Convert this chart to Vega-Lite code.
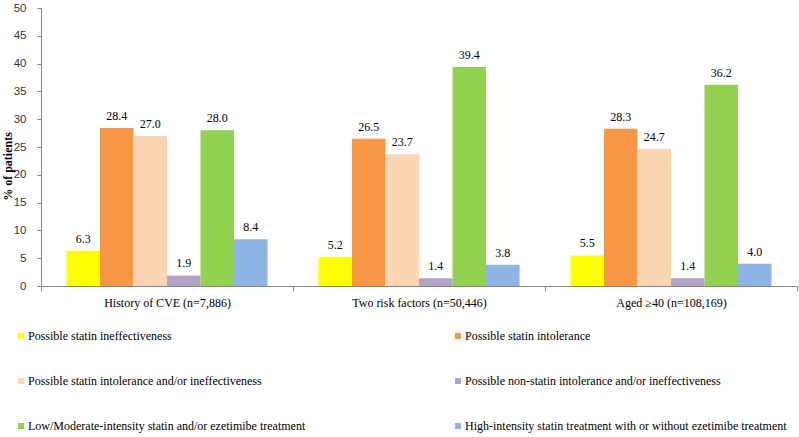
{
  "$schema": "https://vega.github.io/schema/vega-lite/v6.json",
  "width": 756,
  "height": 278,
  "autosize": "none",
  "padding": {"left": 41, "top": 8, "right": 2, "bottom": 151},
  "background": "white",
  "config": {
    "font": "Liberation Serif",
    "view": {"stroke": null}
  },
  "data": {
    "values": [
      {"group": "History of CVE  (n=7,886)", "series": "Possible statin ineffectiveness", "value": 6.3},
      {"group": "History of CVE  (n=7,886)", "series": "Possible statin intolerance", "value": 28.4},
      {"group": "History of CVE  (n=7,886)", "series": "Possible statin intolerance and/or ineffectiveness", "value": 27.0},
      {"group": "History of CVE  (n=7,886)", "series": "Possible non-statin  intolerance and/or ineffectiveness", "value": 1.9},
      {"group": "History of CVE  (n=7,886)", "series": "Low/Moderate-intensity statin and/or ezetimibe treatment", "value": 28.0},
      {"group": "History of CVE  (n=7,886)", "series": "High-intensity statin treatment with or without ezetimibe treatment", "value": 8.4},
      {"group": "Two risk factors (n=50,446)", "series": "Possible statin ineffectiveness", "value": 5.2},
      {"group": "Two risk factors (n=50,446)", "series": "Possible statin intolerance", "value": 26.5},
      {"group": "Two risk factors (n=50,446)", "series": "Possible statin intolerance and/or ineffectiveness", "value": 23.7},
      {"group": "Two risk factors (n=50,446)", "series": "Possible non-statin  intolerance and/or ineffectiveness", "value": 1.4},
      {"group": "Two risk factors (n=50,446)", "series": "Low/Moderate-intensity statin and/or ezetimibe treatment", "value": 39.4},
      {"group": "Two risk factors (n=50,446)", "series": "High-intensity statin treatment with or without ezetimibe treatment", "value": 3.8},
      {"group": "Aged ≥40 (n=108,169)", "series": "Possible statin ineffectiveness", "value": 5.5},
      {"group": "Aged ≥40 (n=108,169)", "series": "Possible statin intolerance", "value": 28.3},
      {"group": "Aged ≥40 (n=108,169)", "series": "Possible statin intolerance and/or ineffectiveness", "value": 24.7},
      {"group": "Aged ≥40 (n=108,169)", "series": "Possible non-statin  intolerance and/or ineffectiveness", "value": 1.4},
      {"group": "Aged ≥40 (n=108,169)", "series": "Low/Moderate-intensity statin and/or ezetimibe treatment", "value": 36.2},
      {"group": "Aged ≥40 (n=108,169)", "series": "High-intensity statin treatment with or without ezetimibe treatment", "value": 4.0}
    ]
  },
  "encoding": {
    "x": {
      "field": "group", "type": "nominal", "sort": null,
      "scale": {"paddingInner": 0, "paddingOuter": 0},
      "axis": {
        "title": null, "labelAngle": 0, "tickBand": "extent",
        "labelFont": "Liberation Serif", "labelFontSize": 12, "labelColor": "#000000",
        "domainColor": "#868686", "tickColor": "#868686", "tickSize": 5, "labelPadding": 6
      }
    },
    "xOffset": {
      "field": "series", "type": "nominal", "sort": null,
      "scale": {"paddingInner": 0, "paddingOuter": 0.76}
    },
    "y": {
      "field": "value", "type": "quantitative",
      "scale": {"domain": [0, 50]},
      "axis": {
        "title": "% of patients", "titleFont": "Liberation Serif", "titleFontSize": 12,
        "titleFontWeight": "bold", "titleColor": "#000000",
        "titleX": -34, "titleY": 158, "titleBaseline": "middle", "titleAlign": "center", "titleAngle": -90,
        "values": [0, 5, 10, 15, 20, 25, 30, 35, 40, 45, 50],
        "grid": false, "labelFont": "Liberation Sans", "labelFontSize": 11.5, "labelColor": "#333333",
        "domainColor": "#868686", "tickColor": "#868686", "tickSize": 4, "labelPadding": 11
      }
    }
  },
  "layer": [
    {
      "mark": {"type": "bar"},
      "encoding": {
        "color": {
          "field": "series", "type": "nominal", "sort": null,
          "scale": {
            "domain": [
              "Possible statin ineffectiveness",
              "Possible statin intolerance",
              "Possible statin intolerance and/or ineffectiveness",
              "Possible non-statin  intolerance and/or ineffectiveness",
              "Low/Moderate-intensity statin and/or ezetimibe treatment",
              "High-intensity statin treatment with or without ezetimibe treatment"
            ],
            "range": ["#FFFF00", "#F79646", "#FCD5B5", "#B3A2C7", "#92D050", "#8EB4E3"]
          },
          "legend": {
            "title": null, "orient": "none", "legendX": -26, "legendY": 322,
            "direction": "horizontal",
            "columns": 2, "columnPadding": 146, "rowPadding": 33,
            "symbolType": "square", "symbolSize": 36, "symbolStrokeWidth": 0,
            "labelFont": "Liberation Serif", "labelFontSize": 12, "labelColor": "#000000",
            "labelLimit": 400, "labelOffset": 1
          }
        }
      }
    },
    {
      "mark": {"type": "text", "baseline": "bottom", "dy": -5, "font": "Liberation Serif", "fontSize": 12, "color": "#000000"},
      "encoding": {
        "text": {"field": "value", "type": "quantitative", "format": ".1f"}
      }
    }
  ]
}
